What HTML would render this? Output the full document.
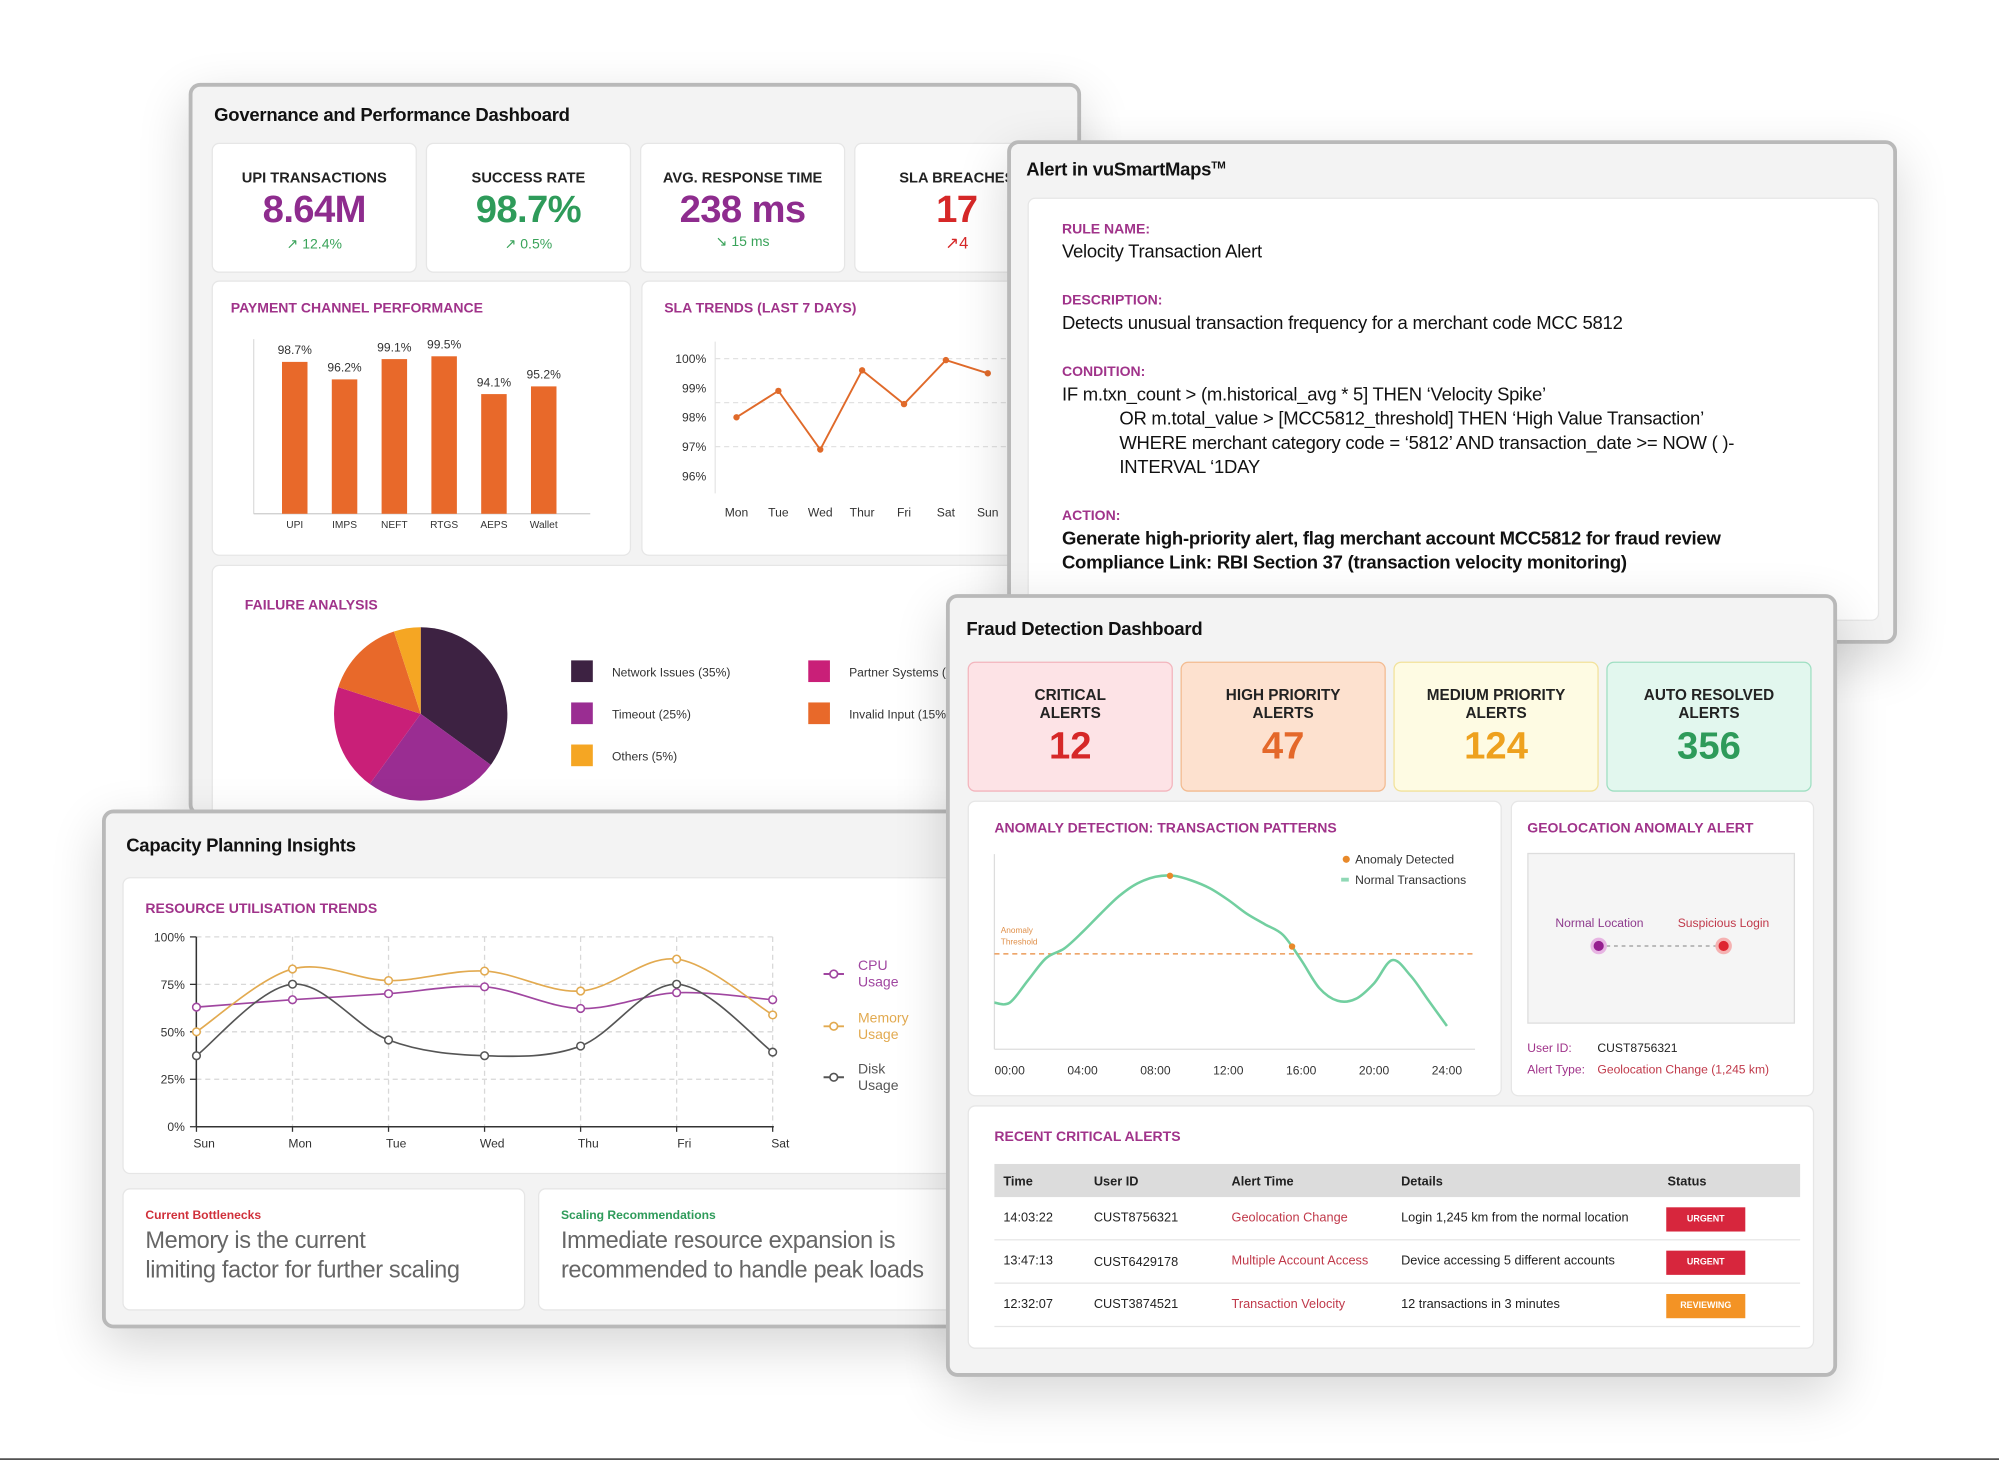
<!DOCTYPE html>
<html><head><meta charset="utf-8">
<style>
html,body{margin:0;padding:0;background:#fff;}
body{width:1999px;height:1460px;overflow:hidden;position:relative;font-family:"Liberation Sans",Arial,sans-serif;}
#stage{position:absolute;left:0;top:0;width:1568px;height:1145px;transform:scale(1.27487);transform-origin:0 0;}
.panel{position:absolute;background:#f3f3f3;border:3px solid #b9b9b9;border-radius:9px;box-shadow:0 14px 40px rgba(0,0,0,0.16);box-sizing:border-box;overflow:hidden;}
.ptitle{position:absolute;font-size:14.5px;font-weight:bold;color:#111;white-space:nowrap;letter-spacing:-0.2px;}
.card{position:absolute;background:#fff;border:1px solid #e6e6e6;border-radius:6px;box-sizing:border-box;}
.abs{position:absolute;white-space:nowrap;}
.ctitle{position:absolute;font-size:11px;font-weight:bold;color:#a0338a;white-space:nowrap;}
.kt{position:absolute;left:0;right:0;text-align:center;font-size:11.5px;font-weight:bold;color:#222;}
.kv{position:absolute;left:0;right:0;text-align:center;font-size:30px;font-weight:bold;letter-spacing:-0.5px;}
.kc{position:absolute;left:0;right:0;text-align:center;font-size:11px;}
svg{position:absolute;left:0;top:0;overflow:visible;}
.al{position:absolute;left:26px;font-size:11px;font-weight:bold;color:#a0338a;}
.av{position:absolute;left:26px;font-size:14.5px;color:#111;white-space:nowrap;letter-spacing:-0.2px;}
.fc{position:absolute;top:50px;width:161px;height:102px;border-radius:6px;box-sizing:border-box;}
.fct{position:absolute;left:0;right:0;top:18px;text-align:center;font-size:12px;font-weight:bold;color:#222;line-height:14px;}
.fcv{position:absolute;left:0;right:0;top:49px;text-align:center;font-size:30px;font-weight:bold;}
.td{position:absolute;font-size:10px;color:#222;white-space:nowrap;}
.badge{position:absolute;width:62px;height:19px;line-height:19px;text-align:center;color:#fff;font-size:7px;font-weight:bold;}
</style></head>
<body>
<div id="stage">

<!-- Governance panel -->
<div class="panel" style="left:148px;top:65px;width:700px;height:575px;">
  <div class="ptitle" style="left:17px;top:15px;">Governance and Performance Dashboard</div>
  <div class="card" style="left:15px;top:44px;width:161px;height:102px;">
    <div class="kt" style="top:21px;">UPI TRANSACTIONS</div>
    <div class="kv" style="top:35px;color:#8e2c8e;">8.64M</div>
    <div class="kc" style="top:72px;color:#3aa35a;">↗ 12.4%</div>
  </div>
  <div class="card" style="left:183px;top:44px;width:161px;height:102px;">
    <div class="kt" style="top:21px;">SUCCESS RATE</div>
    <div class="kv" style="top:35px;color:#2e9b5a;">98.7%</div>
    <div class="kc" style="top:72px;color:#3aa35a;">↗ 0.5%</div>
  </div>
  <div class="card" style="left:351px;top:44px;width:161px;height:102px;">
    <div class="kt" style="top:21px;">AVG. RESPONSE TIME</div>
    <div class="kv" style="top:35px;color:#8e2c8e;">238 ms</div>
    <div class="kc" style="top:70px;color:#3aa35a;">↘ 15 ms</div>
  </div>
  <div class="card" style="left:519px;top:44px;width:161px;height:102px;">
    <div class="kt" style="top:21px;">SLA BREACHES</div>
    <div class="kv" style="top:35px;color:#d62828;">17</div>
    <div class="kc" style="top:70px;color:#d62828;font-size:13px;">↗4</div>
  </div>
  <div class="card" style="left:15px;top:152px;width:329px;height:216px;"></div>
  <div class="card" style="left:352px;top:152px;width:340px;height:216px;"></div>
  <div class="card" style="left:15px;top:375px;width:680px;height:260px;"></div>
  <div class="ctitle" style="left:30px;top:168px;">PAYMENT CHANNEL PERFORMANCE</div>
  <div class="ctitle" style="left:370px;top:168px;">SLA TRENDS (LAST 7 DAYS)</div>
  <div class="ctitle" style="left:41px;top:401px;">FAILURE ANALYSIS</div>
  <svg id="govsvg" width="700" height="575"><g id="govg" transform="translate(-151,-68)"></g></svg>
</div>

<!-- Alert panel -->
<div class="panel" style="left:790px;top:110px;width:698px;height:395px;">
  <div class="ptitle" style="left:12px;top:12px;">Alert in vuSmartMaps<sup style="font-size:8px;">TM</sup></div>
  <div class="card" style="left:13px;top:42px;width:668px;height:332px;">
    <div class="al" style="top:18px;">RULE NAME:</div>
    <div class="av" style="top:34px;">Velocity Transaction Alert</div>
    <div class="al" style="top:74px;">DESCRIPTION:</div>
    <div class="av" style="top:90px;">Detects unusual transaction frequency for a merchant code MCC 5812</div>
    <div class="al" style="top:130px;">CONDITION:</div>
    <div class="av" style="top:146px;">IF m.txn_count &gt; (m.historical_avg * 5] THEN ‘Velocity Spike’</div>
    <div class="av" style="top:165px;left:71px;">OR m.total_value &gt; [MCC5812_threshold] THEN ‘High Value Transaction’</div>
    <div class="av" style="top:184px;left:71px;">WHERE merchant category code = ‘5812’ AND transaction_date &gt;= NOW ( )-</div>
    <div class="av" style="top:203px;left:71px;">INTERVAL ‘1DAY</div>
    <div class="al" style="top:243px;">ACTION:</div>
    <div class="av" style="top:259px;font-weight:bold;">Generate high-priority alert, flag merchant account MCC5812 for fraud review</div>
    <div class="av" style="top:278px;font-weight:bold;">Compliance Link: RBI Section 37 (transaction velocity monitoring)</div>
  </div>
</div>

<!-- Capacity panel -->
<div class="panel" style="left:80px;top:635px;width:690px;height:407px;">
  <div class="ptitle" style="left:16px;top:18px;">Capacity Planning Insights</div>
  <div class="card" style="left:13px;top:50px;width:690px;height:233px;"></div>
  <div class="ctitle" style="left:31px;top:69px;">RESOURCE UTILISATION TRENDS</div>
  <div class="card" style="left:13px;top:294px;width:316px;height:96px;">
    <div class="abs" style="left:17px;top:15px;font-size:9.5px;font-weight:bold;color:#d0303a;">Current Bottlenecks</div>
    <div class="abs" style="left:17px;top:29px;font-size:18.5px;color:#666;line-height:22.5px;letter-spacing:-0.3px;">Memory is the current<br>limiting factor for further scaling</div>
  </div>
  <div class="card" style="left:339px;top:294px;width:360px;height:96px;">
    <div class="abs" style="left:17px;top:15px;font-size:9.5px;font-weight:bold;color:#2e9b5a;">Scaling Recommendations</div>
    <div class="abs" style="left:17px;top:29px;font-size:18.5px;color:#666;line-height:22.5px;letter-spacing:-0.3px;">Immediate resource expansion is<br>recommended to handle peak loads</div>
  </div>
  <svg id="capsvg" width="690" height="407"><g id="capg" transform="translate(-83,-638)"></g></svg>
</div>

<!-- Fraud panel -->
<div class="panel" style="left:742px;top:466px;width:699px;height:614px;">
  <div class="ptitle" style="left:13px;top:17px;">Fraud Detection Dashboard</div>
  <div class="fc" style="left:14px;background:#fde3e6;border:1px solid #f3b5bd;"><div class="fct">CRITICAL<br>ALERTS</div><div class="fcv" style="color:#d62828;">12</div></div>
  <div class="fc" style="left:181px;background:#fde1cf;border:1px solid #f3bb90;"><div class="fct">HIGH PRIORITY<br>ALERTS</div><div class="fcv" style="color:#e4682a;">47</div></div>
  <div class="fc" style="left:348px;background:#fefbe3;border:1px solid #f2e29b;"><div class="fct">MEDIUM PRIORITY<br>ALERTS</div><div class="fcv" style="color:#eea11e;">124</div></div>
  <div class="fc" style="left:515px;background:#e2f7ee;border:1px solid #9fdfc2;"><div class="fct">AUTO RESOLVED<br>ALERTS</div><div class="fcv" style="color:#2e9b5a;">356</div></div>
  <div class="card" style="left:14px;top:159px;width:419px;height:232px;"></div>
  <div class="card" style="left:440px;top:159px;width:238px;height:232px;"></div>
  <div class="card" style="left:14px;top:398px;width:664px;height:191px;"></div>
  <div class="ctitle" style="left:35px;top:175px;">ANOMALY DETECTION: TRANSACTION PATTERNS</div>
  <div class="ctitle" style="left:453px;top:175px;">GEOLOCATION ANOMALY ALERT</div>
  <div class="ctitle" style="left:35px;top:417px;">RECENT CRITICAL ALERTS</div>
  <div style="position:absolute;left:453px;top:200px;width:210px;height:134px;background:#f5f5f5;border:1px solid #ddd;box-sizing:border-box;"></div>
  <div class="abs" style="left:475px;top:250px;font-size:9.5px;color:#8e3b8e;">Normal Location</div>
  <div class="abs" style="left:571px;top:250px;font-size:9.5px;color:#c0394a;">Suspicious Login</div>
  <div class="abs" style="left:453px;top:348px;font-size:9.5px;color:#a0338a;">User ID:</div>
  <div class="abs" style="left:508px;top:348px;font-size:9.5px;color:#222;">CUST8756321</div>
  <div class="abs" style="left:453px;top:365px;font-size:9.5px;color:#a0338a;">Alert Type:</div>
  <div class="abs" style="left:508px;top:365px;font-size:9.5px;color:#c0394a;">Geolocation Change (1,245 km)</div>
  <!-- table -->
  <div style="position:absolute;left:35px;top:444px;width:632px;height:26px;background:#dcdcdc;"></div>
  <div class="td" style="left:42px;top:453px;font-weight:bold;">Time</div>
  <div class="td" style="left:113px;top:453px;font-weight:bold;">User ID</div>
  <div class="td" style="left:221px;top:453px;font-weight:bold;">Alert Time</div>
  <div class="td" style="left:354px;top:453px;font-weight:bold;">Details</div>
  <div class="td" style="left:563px;top:453px;font-weight:bold;">Status</div>
  <div style="position:absolute;left:35px;top:503px;width:632px;height:1px;background:#e6e6e6;"></div>
  <div style="position:absolute;left:35px;top:537px;width:632px;height:1px;background:#e6e6e6;"></div>
  <div style="position:absolute;left:35px;top:571px;width:632px;height:1px;background:#e6e6e6;"></div>
  <div>
    <div class="td" style="left:42px;top:481px;">14:03:22</div><div class="td" style="left:113px;top:481px;">CUST8756321</div>
    <div class="td" style="left:221px;top:481px;color:#c0394a;">Geolocation Change</div><div class="td" style="left:354px;top:481px;">Login 1,245 km from the normal location</div>
    <div class="badge" style="left:562px;top:478px;background:#d7263d;">URGENT</div>
  </div>
  <div>
    <div class="td" style="left:42px;top:515px;">13:47:13</div><div class="td" style="left:113px;top:516px;">CUST6429178</div>
    <div class="td" style="left:221px;top:515px;color:#c0394a;">Multiple Account Access</div><div class="td" style="left:354px;top:515px;">Device accessing 5 different accounts</div>
    <div class="badge" style="left:562px;top:512px;background:#d7263d;">URGENT</div>
  </div>
  <div>
    <div class="td" style="left:42px;top:549px;">12:32:07</div><div class="td" style="left:113px;top:549px;">CUST3874521</div>
    <div class="td" style="left:221px;top:549px;color:#c0394a;">Transaction Velocity</div><div class="td" style="left:354px;top:549px;">12 transactions in 3 minutes</div>
    <div class="badge" style="left:562px;top:546px;background:#f39325;">REVIEWING</div>
  </div>
  <svg id="frsvg" width="699" height="614"><g id="frg" transform="translate(-745,-469)"></g></svg>
</div>

<div style="position:absolute;left:0;top:1143.5px;width:1568px;height:1.5px;background:#111;"></div>
</div>

<script>
// ---- Payment channel bar chart data ----
const barCategories = ["UPI","IMPS","NEFT","RTGS","AEPS","Wallet"];
const barValues = [98.7,96.2,99.1,99.5,94.1,95.2];
// ---- SLA trend data ----
const slaDays = ["Mon","Tue","Wed","Thur","Fri","Sat","Sun"];
const slaValues = [98.0,98.9,96.9,99.6,98.45,99.95,99.5];
const slaTicks = [100,99,98,97,96];
// ---- Failure analysis ----
const pieLabels = ["Network Issues (35%)","Timeout (25%)","Partner Systems (20%)","Invalid Input (15%)","Others (5%)"];
const pieValues = [35,25,20,15,5];
// ---- Resource utilisation ----
const resDays = ["Sun","Mon","Tue","Wed","Thu","Fri","Sat"];
const cpuValues = [63,66.9,70.1,73.7,62.3,70.6,66.9];
const memValues = [50,83.1,77,82,71.5,88.3,58.9];
const diskValues = [37.4,75.1,45.7,37.4,42.5,75.1,39.3];
const resTicks = [0,25,50,75,100];
// ---- Anomaly detection ----
const anomHours = [0,1,2,3,4,5,6,7,8,9,10,11,12,13,14,15,16,17,18,19,20,21,22,23,24];
const anomValues = [24,35.5,47,52,60.5,70,79,85.5,89,89.5,87,83,77,70,64.5,59,46,31.5,25,26,34,46,38,25,12];
const anomPointHours = [8.8,15.5];
const anomPointValues = [89.5,53];
const anomThreshold = 49.2;
const anomTickLabels = ["00:00","04:00","08:00","12:00","16:00","20:00","24:00"];

const NS="http://www.w3.org/2000/svg";
function mk(parent,tag,attrs,text){const e=document.createElementNS(NS,tag);for(const k in attrs)e.setAttribute(k,attrs[k]);if(text!==undefined)e.textContent=text;parent.appendChild(e);return e;}
function smooth(pts){let d="M"+pts[0][0]+","+pts[0][1];for(let i=0;i<pts.length-1;i++){const p0=pts[i-1]||pts[i],p1=pts[i],p2=pts[i+1],p3=pts[i+2]||p2;const t=6;d+=" C"+(p1[0]+(p2[0]-p0[0])/t)+","+(p1[1]+(p2[1]-p0[1])/t)+" "+(p2[0]-(p3[0]-p1[0])/t)+","+(p2[1]-(p3[1]-p1[1])/t)+" "+p2[0]+","+p2[1];}return d;}

// ===== Governance =====
const gg=document.getElementById('govg');
// bar chart
const bx=i=>231.2+i*39.06, by=v=>403-(v-77)*5.49;
mk(gg,'line',{x1:199,y1:266,x2:199,y2:403,stroke:'#ddd'});
mk(gg,'line',{x1:199,y1:403,x2:463,y2:403,stroke:'#ccc'});
barValues.forEach((v,i)=>{
  const r=mk(gg,'rect',{x:bx(i)-10,y:by(v),width:20,height:403-by(v),fill:'#e8692a'});
  
  
  mk(gg,'text',{x:bx(i),y:by(v)-6,'text-anchor':'middle','font-size':9.5,fill:'#333'},v.toFixed(1)+'%');
  mk(gg,'text',{x:bx(i),y:414,'text-anchor':'middle','font-size':8,fill:'#333'},barCategories[i]);
});
// SLA chart
const sx=i=>577.7+i*32.85, sy=v=>281.3+(100-v)*23;
mk(gg,'line',{x1:561,y1:268,x2:561,y2:387,stroke:'#e6e6e6'});
[100,98.5,97].forEach(v=>mk(gg,'line',{x1:561,y1:sy(v),x2:790,y2:sy(v),stroke:'#e2e2e2','stroke-dasharray':'4,3'}));
slaTicks.forEach(t=>mk(gg,'text',{x:554,y:sy(t)+3.5,'text-anchor':'end','font-size':9.5,fill:'#333'},t+'%'));
slaDays.forEach((d,i)=>mk(gg,'text',{x:sx(i),y:405,'text-anchor':'middle','font-size':9.5,fill:'#333'},d));
const slaLine=mk(gg,'polyline',{points:slaValues.map((v,i)=>sx(i)+','+sy(v)).join(' '),fill:'none',stroke:'#e06a2a','stroke-width':1.5});


slaValues.forEach((v,i)=>{const c=mk(gg,'circle',{cx:sx(i),cy:sy(v),r:2.5,fill:'#e06a2a'});
  
  });
// Pie
const pieColors=['#3d2242','#9a2d92','#c91f78','#e8692a','#f5a623'];
const total=pieValues.reduce((a,b)=>a+b,0);let ang=-Math.PI/2;const cx=330,cy=560,R=68;
pieValues.forEach((v,i)=>{const a2=ang+v/total*2*Math.PI;const large=(a2-ang)>Math.PI?1:0;
  const p=mk(gg,'path',{d:`M${cx},${cy} L${cx+R*Math.cos(ang)},${cy+R*Math.sin(ang)} A${R},${R} 0 ${large} 1 ${cx+R*Math.cos(a2)},${cy+R*Math.sin(a2)} Z`,fill:pieColors[i]});
  
  
  ang=a2;});
const legPos=[[448,527],[448,560],[634,527],[634,560],[448,593]];
pieLabels.forEach((l,i)=>{const [x,y]=legPos[i];
  const s=mk(gg,'rect',{x:x,y:y-9,width:17,height:17,fill:pieColors[i]});
  
  
  mk(gg,'text',{x:x+32,y:y+3.5,'font-size':9.5,fill:'#333'},l);});

// ===== Capacity chart =====
const cg=document.getElementById('capg');
const cx2=i=>154.1+i*75.33, cy2=v=>883.8-v*1.489;
resTicks.forEach(t=>{ if(t>0) mk(cg,'line',{x1:154,y1:cy2(t),x2:607,y2:cy2(t),stroke:'#d8d8d8','stroke-dasharray':'4,3'});
  mk(cg,'line',{x1:149,y1:cy2(t),x2:154,y2:cy2(t),stroke:'#333'});
  mk(cg,'text',{x:145,y:cy2(t)+3.5,'text-anchor':'end','font-size':9.5,fill:'#333'},t+'%');});
resDays.forEach((d,i)=>{ if(i>0) mk(cg,'line',{x1:cx2(i),y1:cy2(100),x2:cx2(i),y2:cy2(0),stroke:'#d8d8d8','stroke-dasharray':'4,3'});
  mk(cg,'line',{x1:cx2(i),y1:cy2(0),x2:cx2(i),y2:cy2(0)+4,stroke:'#333'});
  mk(cg,'text',{x:cx2(i)+6,y:900,'text-anchor':'middle','font-size':9.5,fill:'#333'},d);});
mk(cg,'line',{x1:154,y1:cy2(100),x2:154,y2:cy2(0),stroke:'#333','stroke-width':1.2});
mk(cg,'line',{x1:154,y1:cy2(0),x2:607,y2:cy2(0),stroke:'#333','stroke-width':1.2});
const series=[['cpu',cpuValues,'#a046a0'],['memory',memValues,'#e2aa50'],['disk',diskValues,'#555']];
series.forEach(([n,vals,col])=>{
  const p=mk(cg,'path',{d:smooth(vals.map((v,i)=>[cx2(i),cy2(v)])),fill:'none',stroke:col,'stroke-width':1.3});
  
  
  vals.forEach((v,i)=>{const c=mk(cg,'circle',{cx:cx2(i),cy:cy2(v),r:3,fill:'#fff',stroke:col,'stroke-width':1.2});
    
    });
});
const legY=[764,805,845],legNames=[['CPU','Usage'],['Memory','Usage'],['Disk','Usage']];
series.forEach(([n,vals,col],i)=>{const y=legY[i];
  const g=mk(cg,'g',{});
  
  
  mk(g,'line',{x1:646,y1:y,x2:662,y2:y,stroke:col,'stroke-width':1.5});
  mk(g,'circle',{cx:654,cy:y,r:3,fill:'#fff',stroke:col,'stroke-width':1.3});
  mk(g,'text',{x:673,y:y-3,'font-size':11,fill:col},legNames[i][0]);
  mk(g,'text',{x:673,y:y+10,'font-size':11,fill:col},legNames[i][1]);});

// ===== Anomaly chart =====
const fg=document.getElementById('frg');
const ax=h=>792+h*14.29, ay=v=>823-v*1.52;
mk(fg,'line',{x1:780,y1:670,x2:780,y2:823,stroke:'#ddd'});
mk(fg,'line',{x1:780,y1:823,x2:1157,y2:823,stroke:'#ddd'});
mk(fg,'line',{x1:780,y1:ay(anomThreshold),x2:1157,y2:ay(anomThreshold),stroke:'#e8893a','stroke-dasharray':'4,3','stroke-width':1});
mk(fg,'text',{x:785,y:732,'font-size':6.5,fill:'#e0904a'},'Anomaly');
mk(fg,'text',{x:785,y:741,'font-size':6.5,fill:'#e0904a'},'Threshold');
const apts=anomValues.map((v,i)=>[ax(anomHours[i]),ay(v)]);
apts.unshift([780,apts[0][1]]);
const an=mk(fg,'path',{d:smooth(apts),fill:'none',stroke:'#72cfa0','stroke-width':2});


anomPointHours.forEach((h,i)=>{const c=mk(fg,'circle',{cx:ax(h),cy:ay(anomPointValues[i]),r:2.5,fill:'#e8892a'});
  
  });
anomTickLabels.forEach((t,i)=>mk(fg,'text',{x:ax(i*4),y:843,'text-anchor':'middle','font-size':9.5,fill:'#333'},t));
mk(fg,'circle',{cx:1056,cy:674,r:2.8,fill:'#e8892a'});
mk(fg,'text',{x:1063,y:677.5,'font-size':9.5,fill:'#333'},'Anomaly Detected');
mk(fg,'rect',{x:1052,y:688.5,width:6,height:3,fill:'#8fd8b5'});
mk(fg,'text',{x:1063,y:693.5,'font-size':9.5,fill:'#333'},'Normal Transactions');
// geo
mk(fg,'line',{x1:1254,y1:742,x2:1352,y2:742,stroke:'#999','stroke-dasharray':'3,3'});
mk(fg,'circle',{cx:1254,cy:742,r:6.5,fill:'#e7b5e3'});
mk(fg,'circle',{cx:1254,cy:742,r:4,fill:'#951f8f'});
mk(fg,'circle',{cx:1352,cy:742,r:6.5,fill:'#f5b2b2'});
mk(fg,'circle',{cx:1352,cy:742,r:4,fill:'#de2530'});
</script>
</body></html>
